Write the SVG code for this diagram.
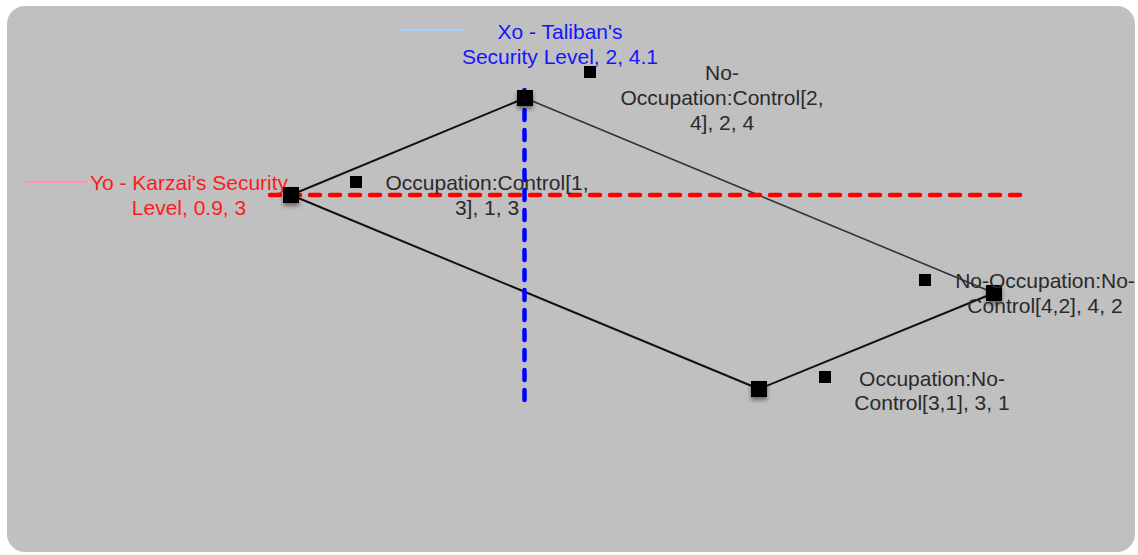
<svg xmlns="http://www.w3.org/2000/svg" width="1138" height="555" viewBox="0 0 1138 555">
<style>
text{font-family:"Liberation Sans",Arial,sans-serif;font-size:21px;text-anchor:middle}
.lbl{fill:#2a2a2a}
.red{fill:#ff1a1a}
.blue{fill:#1414ff}
.edge{fill:none;stroke:#111;stroke-width:2}
.big{fill:#000;filter:url(#sh)}
.small{fill:#000}
</style>
<defs>
<filter id="sh" x="-50%" y="-50%" width="200%" height="220%">
<feDropShadow dx="0" dy="3" stdDeviation="2" flood-color="#000" flood-opacity="0.45"/>
</filter>
</defs>
<rect x="0" y="0" width="1138" height="555" fill="#fff"/>
<rect x="7" y="6" width="1128" height="546" rx="18" fill="#c0c0c0"/>
<g id="connectors">
<line class="edge" x1="291" y1="195" x2="525" y2="98"/>
<line class="edge" x1="525" y1="98" x2="994" y2="293" style="stroke:#333;stroke-width:1.6"/>
<line class="edge" x1="994" y1="293" x2="759" y2="389"/>
<line class="edge" x1="759" y1="389" x2="291" y2="195"/>
</g>
<g id="legend-y">
<line x1="24" y1="182" x2="88" y2="182" stroke="#ff8fc4" stroke-width="2"/>
<line x1="270" y1="195" x2="1020" y2="195" stroke="#ff0000" stroke-width="4.5" stroke-dasharray="10 10" stroke-linecap="round"/>
<text class="red" x="189" y="190">Yo - Karzai's Security</text>
<text class="red" x="189" y="215">Level, 0.9, 3</text>
</g>
<g id="legend-x">
<line x1="398" y1="30" x2="465" y2="30" stroke="#9fcfff" stroke-width="2"/>
<line x1="524.5" y1="90" x2="524.5" y2="400" stroke="#0000ff" stroke-width="4.5" stroke-dasharray="10 10" stroke-linecap="round"/>
<text class="blue" x="560" y="39">Xo - Taliban's</text>
<text class="blue" x="560" y="64">Security Level, 2, 4.1</text>
</g>
<g id="node-oc">
<rect class="big" x="283" y="187" width="16" height="16"/>
<rect class="small" x="350" y="176" width="12" height="12"/>
<text class="lbl" x="487" y="190">Occupation:Control[1,</text>
<text class="lbl" x="487" y="215">3], 1, 3</text>
</g>
<g id="node-noc">
<rect class="big" x="517" y="90" width="16" height="16"/>
<rect class="small" x="584" y="66" width="12" height="12"/>
<text class="lbl" x="722" y="80">No-</text>
<text class="lbl" x="722" y="105">Occupation:Control[2,</text>
<text class="lbl" x="722" y="130">4], 2, 4</text>
</g>
<g id="node-nonc">
<rect class="big" x="986" y="285" width="16" height="16"/>
<rect class="small" x="919" y="274" width="12" height="12"/>
<text class="lbl" x="1045" y="288">No-Occupation:No-</text>
<text class="lbl" x="1045" y="313">Control[4,2], 4, 2</text>
</g>
<g id="node-onc">
<rect class="big" x="751" y="381" width="16" height="16"/>
<rect class="small" x="819" y="371" width="12" height="12"/>
<text class="lbl" x="932" y="386">Occupation:No-</text>
<text class="lbl" x="932" y="410">Control[3,1], 3, 1</text>
</g>
</svg>
